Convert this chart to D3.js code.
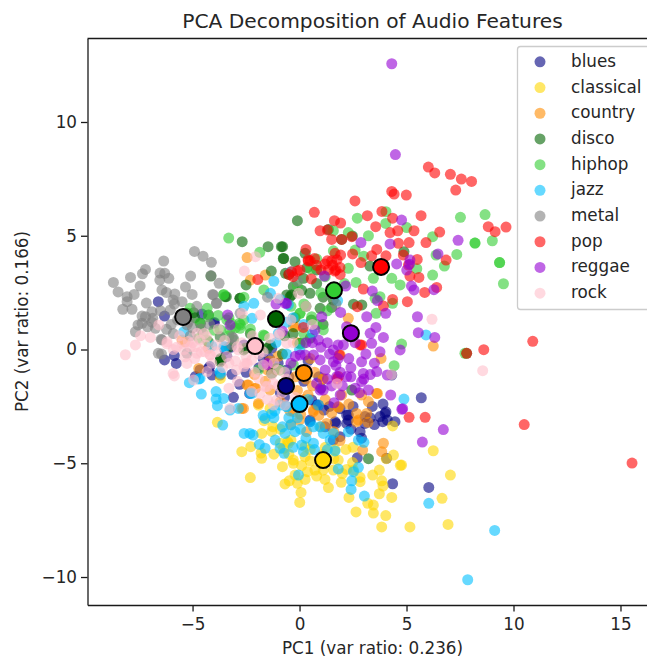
<!DOCTYPE html>
<html>
<head>
<meta charset="utf-8">
<script src="https://cdnjs.cloudflare.com/ajax/libs/d3/7.8.5/d3.min.js"></script>
<style>
  html, body { margin: 0; padding: 0; background: #fff; overflow: hidden; }
  svg { display: block; font-family: "DejaVu Sans", sans-serif; }
  text { fill: #262626; }
</style>
</head>
<body>
<svg id="chart" width="647" height="657"></svg>
<script>
// values, [pc1, pc2]
const blues = [[-6.6,2.1],[-6.31,1.47],[-4.56,1.56],[-6.31,-0.46],[-5.85,-0.27],[-4.0,1.15],[-5.76,-0.61],[-3.7,-0.46],[-3.4,-0.3],[-4.2,-0.75],[-4.87,-1.19],[-4.09,-1.12],[-3.16,-1.09],[-2.8,-1.53],[-3.09,-2.1],[-1.7,-0.39],[-3.98,1.19],[-4.65,-0.9],[-4.26,-0.83],[-3.71,-1.12],[-3.64,-0.46],[-1.3,0.05],[-3.48,-0.02],[-2.33,-1.93],[0.49,-3.17],[0.88,-2.44],[2.2,-2.88],[2.28,-3.1],[4.0,-2.81],[3.76,-2.95],[3.89,-3.17],[4.46,-3.17],[2.83,-3.61],[3.06,-3.25],[1.89,-3.83],[2.7,-4.76],[4.07,-4.78],[4.35,-5.9],[6.04,-6.06],[5.69,-2.12],[1.58,-3.98],[1.7,-3.25],[4.31,-1.12],[4.04,-2.74],[3.06,-2.95],[2.28,-2.88],[2.2,-3.25],[1.66,-3.18],[0.57,-2.22],[0.8,-2.44],[1.14,-2.66],[0.49,-3.1],[3.5,-3.3],[4.1,-3.1],[3.3,-3.0],[-0.6,-0.9],[0.2,-1.4],[-0.9,-1.9],[-1.4,-0.4],[1.0,-1.7],[0.4,-0.5],[2.4,-3.5],[2.5,-2.5],[-0.5,-1.2],[0.1,-0.9],[-1.0,-0.6],[-0.7,-2.1],[1.4,-2.5],[1.9,-2.6],[2.9,-3.9],[3.4,-2.5],[3.9,-2.4],[-1.9,-0.8],[-2.5,-1.0],[-2.6,0.2],[-3.2,0.1],[1.2,-3.4],[0.9,-1.2]];
const classical = [[-3.84,-3.2],[-2.7,-4.49],[-2.28,-4.27],[-1.77,-3.69],[-1.66,-3.13],[-1.25,-3.39],[-1.77,-4.78],[-1.8,-4.55],[-0.8,-5.15],[-0.29,-4.86],[-0.29,-5.0],[-0.52,-4.12],[-0.9,-4.12],[0.26,-4.71],[-2.3,-5.63],[-0.68,-5.91],[-0.48,-5.77],[-0.1,-5.88],[-0.21,-5.52],[0.26,-5.71],[0.37,-5.37],[0.8,-5.56],[1.19,-5.71],[1.35,-6.07],[0.07,-6.28],[0.01,-6.72],[1.95,-5.84],[2.31,-6.5],[2.83,-5.81],[2.64,-7.14],[3.19,-6.76],[3.45,-6.84],[3.45,-7.19],[4.03,-7.3],[3.84,-7.8],[5.16,-7.8],[6.94,-7.69],[6.66,-6.54],[4.31,-6.5],[3.73,-6.34],[3.9,-6.0],[3.84,-5.77],[3.42,-5.52],[3.73,-5.3],[4.71,-5.09],[6.25,-4.45],[4.39,-4.64],[4.05,-4.8],[7.05,-5.52],[4.35,-3.36],[2.17,-4.39],[1.81,-4.86],[2.2,-5.27],[2.48,-4.97],[1.58,-5.3],[1.1,-5.3],[0.72,-5.3],[-1.38,-2.59],[-1.92,-2.44],[-0.56,-4.05],[-0.75,-4.35],[-0.4,-3.98],[0.26,-4.27],[2.52,-5.3],[2.83,-5.62],[1.66,-4.4],[2.0,-5.45],[4.77,-5.08],[-3.7,-1.27],[0.5,-4.9],[1.1,-4.6],[-1.3,-3.6],[-0.9,-3.5],[-0.5,-4.6],[0.1,-5.1],[0.5,-4.4],[1.2,-4.3],[-1.2,-4.6],[1.6,-4.8],[2.5,-4.3]];
const country = [[3.81,-0.39],[3.22,-2.29],[3.64,-1.93],[2.67,-2.81],[3.14,-2.81],[2.75,-3.1],[1.27,-3.25],[1.82,-2.54],[1.97,-2.0],[1.08,-1.31],[0.65,-2.66],[3.2,-3.2],[3.92,-4.12],[3.84,-4.49],[2.95,-4.42],[-2.7,-2.59],[0.33,-3.61],[1.89,-4.0],[-0.29,-2.73],[0.05,-2.85],[0.65,-2.73],[2.67,-3.17],[1.81,-2.51],[6.25,0.15],[2.28,1.37],[1.11,-1.27],[1.9,-0.24],[3.6,-1.93],[-0.29,1.0],[-2.39,-1.56],[-2.08,-1.71],[-1.92,-2.37],[-2.62,-2.59],[-4.26,0.05],[-1.4,-0.5],[-5.35,0.34],[-1.38,-1.78],[-0.2,1.0],[-0.45,-2.7],[0.02,-2.5],[-2.45,4.04],[-1.6,3.27],[-2.3,3.05],[-4.71,-0.83],[-5.49,0.42],[-2.45,-1.56],[-1.5,-0.9],[-2.05,-1.7],[0.5,-0.4],[-0.1,-1.8],[0.6,-1.6],[1.2,-2.2],[-0.1,0.3],[-1.0,-0.3],[0.2,-2.2],[0.9,-2.9],[1.6,-3.6],[0.3,-1.3],[-0.2,-1.2],[0.7,-1.0],[-1.6,-1.4],[-0.9,-2.3],[0.4,-2.0],[1.5,-2.8],[2.3,-2.4],[2.9,-2.0],[1.0,-3.4],[-0.4,-3.3],[0.0,-3.1],[-2.1,-1.1],[-1.1,-0.9]];
const disco = [[-2.68,4.74],[-1.47,4.52],[-0.85,4.52],[-0.74,4.0],[-1.32,3.45],[-2.5,2.84],[-2.79,2.25],[-3.42,2.32],[-4.14,3.23],[-4.63,1.15],[-5.26,1.59],[-4.25,1.52],[-4.95,1.62],[-3.7,-0.46],[-3.68,-0.39],[-1.85,0.13],[-1.36,0.2],[-2.61,-0.02],[-1.3,-1.05],[-0.66,3.35],[-0.1,5.66],[-0.79,4.52],[-0.76,4.0],[-0.21,3.86],[0.26,4.23],[0.18,3.13],[1.35,5.28],[2.47,4.99],[1.97,4.84],[3.29,3.67],[4.88,4.3],[2.52,1.99],[2.91,1.96],[1.58,2.18],[0.96,1.81],[1.5,1.85],[2.44,-1.78],[-0.44,2.32],[-0.29,2.76],[0.49,2.47],[-4.26,0.34],[-2.55,0.05],[-1.07,-0.83],[0.02,0.27],[-2.78,2.25],[-3.48,2.32],[-3.71,-0.54],[-0.6,2.4],[-0.37,2.4],[7.81,-0.17],[3.22,-4.8],[0.8,3.5],[0.35,3.6],[-0.7,0.6],[0.5,0.5],[-5.5,1.45],[-2.3,0.7],[-0.2,1.4],[1.1,1.1],[-2.1,0.15],[-1.5,0.05],[-0.5,3.3],[0.1,2.6],[0.55,1.3],[-4.9,1.4],[-3.3,0.1],[-0.3,0.7],[0.3,1.9],[-0.8,-0.2],[0.8,2.9],[1.1,2.3]];
const hiphop = [[-3.31,4.9],[-1.86,4.27],[-1.67,2.62],[-3.54,2.42],[-4.32,1.81],[-2.76,1.08],[-3.7,0.86],[-1.64,0.61],[-3.3,1.4],[-2.6,2.3],[-3.0,0.95],[-4.0,0.85],[-4.5,0.7],[-3.4,1.3],[2.7,5.77],[4.04,6.06],[4.03,5.54],[5.01,5.36],[3.22,5.0],[2.28,5.14],[1.58,5.22],[7.52,5.81],[8.67,5.93],[9.01,4.78],[8.2,4.68],[8.2,4.68],[7.35,4.18],[9.35,3.82],[9.35,3.82],[9.53,2.89],[6.77,3.67],[6.38,4.15],[6.22,3.27],[6.22,4.96],[5.48,3.55],[4.7,2.84],[4.31,3.13],[3.45,3.13],[2.64,2.95],[2.28,3.57],[1.58,4.34],[0.8,3.98],[0.52,3.54],[3.53,2.25],[3.76,2.32],[3.58,1.59],[4.35,2.03],[4.77,0.24],[4.42,-0.71],[7.73,-0.17],[0.02,1.59],[0.57,1.44],[1.11,0.86],[2.6,4.37],[0.02,0.24],[-4.65,1.15],[-5.12,1.81],[-4.26,1.44],[-3.56,2.4],[-2.81,1.15],[-2.78,0.93],[-3.25,0.86],[-3.71,0.56],[-3.09,0.42],[-1.69,0.64],[-1.92,-0.9],[-0.29,-0.68],[-0.91,-0.9],[-4.34,0.42],[0.02,1.59],[0.18,0.27],[1.2,3.2],[2.1,2.9],[3.0,4.1],[-3.3,0.6],[-2.3,0.9],[-2.6,1.3],[-3.2,1.15],[0.2,2.0],[0.8,1.1],[1.0,2.5],[-0.4,1.9],[0.2,0.7],[-0.1,2.8],[1.3,1.7],[-3.8,1.5],[-4.7,0.5]];
const jazz = [[-2.22,1.37],[-1.36,2.47],[-2.14,2.03],[-2.6,1.9],[-5.41,0.78],[-3.54,0.12],[-4.59,-1.96],[-3.9,-1.85],[-5.15,-1.46],[-4.71,-1.3],[-3.7,-1.05],[-2.22,-1.93],[-3.9,-2.18],[-3.55,-2.15],[-3.84,-2.47],[-3.25,-2.66],[-2.86,-2.59],[-3.59,-3.32],[-2.59,-3.69],[-2.32,-3.69],[-2.17,-3.76],[-1.61,-3.03],[-1.3,-2.81],[-1.14,-3.98],[-1.88,-4.17],[-1.61,-4.34],[-0.91,-4.34],[-0.72,-4.56],[-0.41,-3.32],[-0.68,-3.69],[-0.21,-3.61],[0.1,-4.2],[0.18,-4.49],[-0.05,-5.52],[0.49,-3.17],[0.65,-3.4],[0.65,-4.12],[1.11,-3.69],[1.58,-3.69],[0.95,-3.4],[1.43,-3.98],[2.28,-3.61],[2.75,-3.98],[3.01,-4.08],[1.66,-4.46],[1.81,-5.25],[2.52,-5.37],[2.75,-5.18],[2.44,-5.77],[2.41,-6.15],[3.03,-6.44],[4.88,-2.18],[6.04,-6.76],[0.88,-2.44],[-0.91,-2.44],[-1.15,-2.7],[-0.6,-2.5],[5.91,0.64],[9.12,-7.95],[7.86,-10.12],[1.78,2.15],[-3.48,0.12],[-0.99,0.71],[-0.52,1.96],[-4.65,-1.27],[-3.72,-0.98],[-2.31,-1.93],[-0.6,-2.52],[-0.4,3.42],[-1.2,3.0],[0.6,0.7],[0.0,0.0],[-0.6,1.2],[-0.1,-3.0],[-0.5,-3.0],[0.4,-2.2],[-1.2,-3.0],[-0.8,-3.4],[-1.7,-2.9],[-0.3,1.4],[0.2,1.1],[-0.9,2.2],[0.05,-3.5],[0.3,-3.9],[0.7,-4.4],[1.3,-4.4],[-0.3,-4.3],[-0.6,-0.2],[-1.1,0.3],[-4.1,0.15]];
const metal = [[-4.91,4.31],[-4.51,4.1],[-4.12,3.83],[-6.35,3.89],[-7.2,3.52],[-7.34,3.33],[-7.9,3.17],[-8.7,2.95],[-8.48,2.53],[-7.45,2.79],[-7.73,2.42],[-8.06,2.32],[-8.06,2.1],[-8.26,1.77],[-7.83,1.77],[-7.16,2.04],[-6.52,3.36],[-6.3,3.35],[-6.11,3.13],[-6.53,3.05],[-5.09,3.23],[-4.14,3.25],[-3.76,2.91],[-5.33,2.75],[-6.43,2.62],[-6.22,2.51],[-5.83,2.44],[-5.02,2.42],[-4.06,2.42],[-3.89,2.03],[-5.91,2.18],[-5.49,2.1],[-7.36,1.47],[-6.86,1.37],[-7.55,1.08],[-7.67,0.78],[-6.74,0.93],[-6.22,0.89],[-6.47,0.45],[-6.6,-0.17],[-5.26,1.08],[-7.2,1.44],[-6.9,1.66],[-7.36,1.15],[-6.04,1.74],[-6.43,0.42],[-6.45,-0.2],[-5.85,2.0],[-5.26,-0.17],[-3.16,0.56],[-3.7,0.56],[-4.03,2.4],[-3.87,2.03],[-3.09,0.49],[-3.17,0.2],[-2.78,1.59],[-6.9,1.2],[-7.1,1.0],[-6.0,1.1],[-5.9,0.7],[-5.1,0.6],[-4.6,0.9],[-4.2,1.1],[-1.5,2.3],[-0.1,3.0],[1.7,2.0],[-5.4,1.5],[-5.2,1.2],[-5.7,1.3],[-4.8,1.9],[-6.5,1.7],[-5.0,0.95]];
const pop = [[2.59,6.53],[3.85,6.07],[4.35,5.77],[4.31,6.95],[4.42,6.83],[4.99,6.79],[0.69,6.03],[3.17,5.88],[5.68,5.88],[1.63,5.66],[1.92,5.56],[0.96,5.22],[1.3,5.25],[3.56,5.4],[4.23,5.14],[4.59,5.22],[5.35,5.22],[6.55,5.16],[1.5,4.84],[1.97,4.84],[2.44,4.96],[4.62,4.67],[5.12,4.7],[5.91,4.7],[0.3,4.4],[0.41,3.89],[0.02,3.49],[1.19,3.76],[1.66,4.23],[1.92,4.15],[2.48,4.2],[2.87,3.82],[3.37,4.12],[3.61,4.4],[4.04,4.12],[5.5,3.96],[6.85,3.93],[1.7,3.49],[1.89,3.61],[-0.37,3.42],[2.98,2.66],[5.58,3.17],[6.41,2.73],[5.85,2.51],[5.04,2.1],[4.35,2.2],[3.92,1.91],[2.7,1.88],[0.18,0.97],[2.83,0.2],[7.81,-0.17],[1.82,-1.19],[4.85,4.15],[5.09,3.71],[5.16,3.23],[6.02,8.02],[6.32,7.76],[7.05,7.7],[7.56,7.49],[8.04,7.39],[7.3,7.01],[8.82,5.4],[9.14,5.18],[9.65,5.38],[8.61,-0.01],[10.9,0.36],[10.5,-3.3],[15.54,-4.99],[5.12,-2.98],[5.87,-2.98],[1.86,-0.24],[2.9,0.2],[-1.95,3.08],[0.55,3.1],[0.8,3.7],[0.5,3.9],[0.7,4.0],[1.0,3.5],[1.5,3.9],[1.75,-1.3],[1.3,3.9],[1.55,3.7],[1.75,3.95],[1.65,3.45],[1.35,3.5],[-0.3,3.2],[-0.5,3.3],[-0.1,3.45],[0.4,3.95],[1.9,3.3]];
const reggae = [[4.31,12.56],[4.48,8.57],[4.77,5.69],[2.87,4.7],[4.23,4.64],[7.41,4.8],[6.47,4.2],[5.16,3.93],[5.14,3.75],[4.54,3.76],[5.01,3.49],[5.23,2.79],[5.35,2.62],[6.28,2.63],[3.4,2.57],[3.64,2.15],[4.03,1.59],[2.16,2.79],[1.16,3.23],[1.92,1.63],[3.14,1.44],[5.51,1.44],[5.55,0.74],[6.32,0.53],[4.7,-0.02],[3.57,0.97],[3.92,0.53],[3.37,0.27],[3.61,-0.97],[4.1,-1.12],[4.26,-2.0],[4.78,-2.63],[1.61,-2.34],[3.22,-1.78],[2.9,-1.41],[2.98,-1.05],[1.58,-0.54],[0.96,-1.78],[1.11,-1.78],[0.8,-1.49],[1.74,-1.19],[2.2,-1.19],[0.96,-0.46],[1.58,-0.02],[2.05,0.2],[2.9,-0.54],[0.26,-0.24],[0.65,-0.24],[0.72,0.86],[3.3,0.71],[3.76,-0.1],[4.82,-2.6],[6.72,-3.52],[5.74,-4.07],[-3.36,1.52],[-3.25,1.08],[-1.5,-0.68],[0.03,-0.24],[-0.6,2.03],[-1.52,-0.61],[-0.66,2.03],[1.3,0.3],[1.04,1.44],[0.88,0.42],[1.9,-1.0],[2.6,-1.7],[1.2,-0.9],[1.7,-0.7],[2.3,-0.4],[3.0,-1.3],[3.3,-1.1],[1.9,-2.0],[2.8,-1.9],[1.5,-1.6],[-0.4,-0.6],[2.2,1.0],[1.8,0.2],[2.6,0.3],[3.1,-0.2],[2.4,-0.8],[1.4,-0.2],[1.0,0.1],[0.6,0.3],[1.8,-0.4],[2.0,-1.6],[1.3,-1.3],[2.4,-1.2],[3.5,-0.6],[-0.2,-0.3],[0.3,0.3],[-0.8,0.8],[-1.1,2.0]];
const rock = [[-8.14,-0.23],[-7.67,0.2],[-7.43,0.61],[-6.97,0.53],[-6.58,1.08],[-6.19,0.34],[-5.91,-1.05],[-5.85,-1.16],[-4.79,0.71],[-5.49,0.27],[-5.1,0.12],[-4.79,-0.17],[-4.17,-0.24],[-5.26,-0.61],[-2.58,3.45],[-2.06,4.08],[-1.83,1.52],[-2.68,1.59],[-2.92,0.12],[-2.45,-0.61],[-1.52,-1.63],[-0.97,0.64],[-0.6,0.28],[-4.32,-0.97],[-4.95,-1.34],[-5.9,0.0],[-6.2,0.25],[-4.65,0.42],[-5.75,0.1],[-4.45,0.7],[-3.4,-0.3],[-2.6,-0.75],[-3.3,-0.6],[-2.5,-0.3],[-4.88,0.12],[-4.42,-0.1],[-4.18,-0.24],[-2.86,-0.02],[-2.24,-0.46],[-2.55,-0.61],[-2.94,-0.9],[-1.69,-0.68],[-1.22,-1.49],[-1.85,-1.93],[-2.24,-1.85],[-1.61,-1.63],[-0.91,0.71],[-0.99,2.25],[-0.05,2.47],[-3.25,-2.59],[-4.34,0.56],[-5.35,-0.32],[-1.92,-1.27],[-0.68,-2.44],[-0.44,-1.63],[-1.22,-2.44],[-1.07,-2.22],[6.19,1.33],[8.56,-0.93],[4.3,-1.1],[0.6,1.1],[0.3,1.9],[-0.4,1.3],[-0.3,0.3],[-1.4,0.5],[-3.8,0.9],[-3.9,0.2],[-3.0,-0.5],[-3.6,-0.8],[-1.9,-0.2],[-1.0,-0.9],[-0.7,-1.0],[0.4,-0.9],[-1.2,-0.6],[-5.6,0.6],[-5.2,0.35],[1.75,-1.5],[-5.0,0.3],[-4.6,-0.1],[-4.4,0.2],[-4.9,-0.4],[-5.4,0.0],[-3.9,-0.1],[-3.5,0.4],[-4.1,-0.6],[-2.7,0.3],[-2.2,0.6],[-1.7,-0.1],[-1.3,-1.1],[-1.0,-1.6],[-0.6,-1.3],[-0.2,-2.1],[0.1,-1.0],[-0.8,-1.9],[-1.5,-2.2],[-2.9,-1.4],[-3.3,-1.7],[-2.1,-1.0]];

const genres = ["blues", "classical", "country", "disco", "hiphop", "jazz", "metal", "pop", "reggae", "rock"];
const colors = ["navy", "gold", "darkorange", "darkgreen", "limegreen", "deepskyblue", "gray", "red", "darkviolet", "pink"];
const pointSets = [blues, classical, country, disco, hiphop, jazz, metal, pop, reggae, rock];
const centroidX = [-0.63, 1.1, 0.2, -1.1, 1.61, 0, -5.44, 3.81, 2.4, -2.08];
const centroidY = [-1.6, -4.86, -1.03, 1.34, 2.6, -2.4, 1.43, 3.63, 0.72, 0.15];
const xTicks = [-5, 0, 5, 10, 15];
const yTicks = [-10, -5, 0, 5, 10];

const svg = d3.select("#chart");
const margin = { left: 87.5, right: 657.5, top: 38.5, bottom: 605 };

const x = d3.scaleLinear().domain([-9.91, 16.73]).range([margin.left, margin.right]);
const y = d3.scaleLinear().domain([-11.23, 13.67]).range([margin.bottom, margin.top]);

const plot = svg.append("g");

pointSets.forEach((pts, i) => {
    plot.append("g").selectAll("circle").data(pts).enter().append("circle")
        .attr("cx", d => x(d[0]))
        .attr("cy", d => y(d[1]))
        .attr("r", 5.5)
        .style("fill", colors[i])
        .style("fill-opacity", 0.6);
});

// centroids go on top of everything
plot.append("g").selectAll("circle").data(genres).enter().append("circle")
    .attr("cx", (d, i) => x(centroidX[i]))
    .attr("cy", (d, i) => y(centroidY[i]))
    .attr("r", 8)
    .style("fill", (d, i) => colors[i])
    .style("stroke", "#000")
    .style("stroke-width", 2);

// axes
const xAxis = svg.append("g").attr("transform", `translate(0,${margin.bottom})`)
    .call(d3.axisBottom(x).tickValues(xTicks).tickSize(6.5).tickSizeOuter(0).tickPadding(7));
const yAxis = svg.append("g").attr("transform", `translate(${margin.left},0)`)
    .call(d3.axisLeft(y).tickValues(yTicks).tickSize(6.5).tickSizeOuter(0).tickPadding(4));
[xAxis, yAxis].forEach(a => {
    a.selectAll("text").style("font-size", "16.8px").style("font-family", '"DejaVu Sans", sans-serif').style("fill", "#262626");
    a.selectAll("line, path").style("stroke", "#1a1a1a").style("stroke-width", 1.3);
});

// top spine
svg.append("line")
    .attr("x1", margin.left).attr("x2", margin.right)
    .attr("y1", margin.top).attr("y2", margin.top)
    .style("stroke", "#1a1a1a").style("stroke-width", 1.3);

svg.append("text").attr("x", 372.5).attr("y", 28)
    .attr("text-anchor", "middle").style("font-size", "20.2px")
    .text("PCA Decomposition of Audio Features");
svg.append("text").attr("x", 372.5).attr("y", 654)
    .attr("text-anchor", "middle").style("font-size", "16.8px")
    .text("PC1 (var ratio: 0.236)");
svg.append("text").attr("transform", `translate(28,321.5) rotate(-90)`)
    .attr("text-anchor", "middle").style("font-size", "16.8px")
    .text("PC2 (var ratio: 0.166)");

// legend
const legend = svg.append("g");
legend.append("rect")
    .attr("x", 517.5).attr("y", 46.5).attr("width", 150).attr("height", 263).attr("rx", 3)
    .style("fill", "#fff").style("fill-opacity", 0.8)
    .style("stroke", "#ccc").style("stroke-width", 1.3);
const legendRow = d3.scaleBand().domain(genres).range([49, 306]);
const rows = legend.selectAll("g").data(genres).enter().append("g")
    .attr("transform", d => `translate(0,${legendRow(d) + legendRow.bandwidth() / 2})`);
rows.append("circle").attr("cx", 540).attr("r", 5.5)
    .style("fill", (d, i) => colors[i]).style("fill-opacity", 0.6);
rows.append("text").attr("x", 571).attr("y", 5).style("font-size", "16.8px").text(d => d);
</script>
</body>
</html>
